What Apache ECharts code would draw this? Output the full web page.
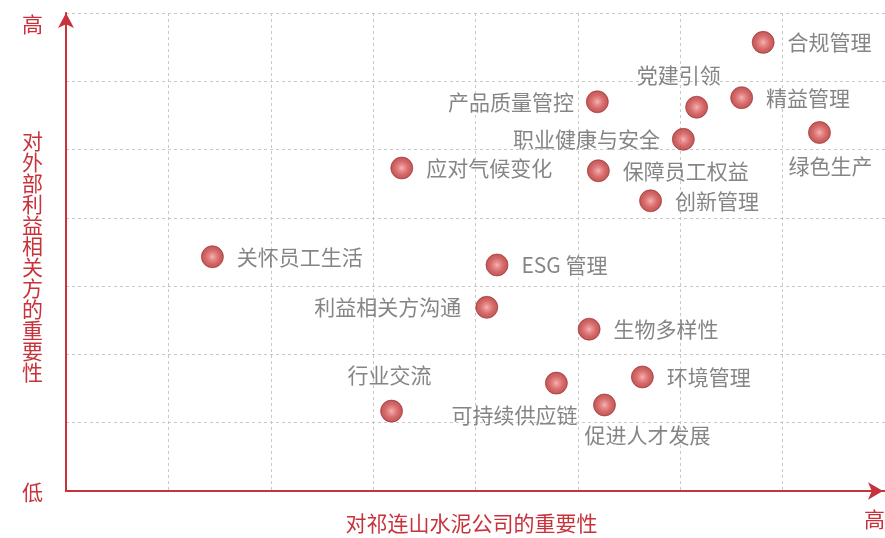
<!DOCTYPE html>
<html>
<head>
<meta charset="utf-8">
<script src="https://cdn.jsdelivr.net/npm/echarts@6/dist/echarts.min.js"></script>
<style>
html,body{margin:0;padding:0;background:#fff;}
#chart{width:885px;height:538px;}
</style>
</head>
<body>
<div id="chart"></div>
<script>
// ---- data ----
const topics = ['合规管理','党建引领','精益管理','绿色生产','职业健康与安全','保障员工权益','创新管理','产品质量管控','应对气候变化','关怀员工生活','ESG 管理','利益相关方沟通','生物多样性','环境管理','可持续供应链','促进人才发展','行业交流'];
const companyImportance = [6.81,6.16,6.60,7.36,6.03,5.20,5.71,5.19,3.28,1.43,4.21,4.11,5.11,5.63,4.79,5.26,3.18];
const stakeholderImportance = [6.57,5.62,5.76,5.25,5.15,4.69,4.25,5.70,4.73,3.43,3.31,2.69,2.37,1.67,1.58,1.26,1.17];
const xAxisTitle = '对祁连山水泥公司的重要性';
const yAxisTitle = '对外部利益相关方的重要性';
const lowHighLabels = ['低','高'];

// ---- label placement (style only) ----
const labelPos = ['right','top','right','bottom','left','right','right','left','right','right','right','left','right','right','bottom','bottom','top'];
const labelShift = [[0,0],[-18,0],[0,0],[11,2],[0,0],[0,0],[0,0],[0,0],[0,0],[0,0],[0,0],[-2,0],[0,0],[0,0],[-42,0],[43,-2],[-2,-4]];

const RED = '#c8323b';
const GRAY = '#666666';
const FONT = '"Noto Sans CJK SC", "Noto Sans", sans-serif';

const points = topics.map((n, i) => ({
  name: n,
  value: [companyImportance[i], stakeholderImportance[i]],
  label: {
    position: labelPos[i],
    offset: labelShift[i],
    distance: (labelPos[i] === 'top' || labelPos[i] === 'bottom') ? 10 : (labelPos[i] === 'left' ? 12 : 13)
  }
}));

const chart = echarts.init(document.getElementById('chart'), null, {renderer: 'canvas'});
chart.setOption({
  animation: false,
  backgroundColor: '#fff',
  grid: {left: 66, right: 0, top: 13, bottom: 47, containLabel: false},
  xAxis: {
    type: 'value', min: 0, max: 8, interval: 1,
    axisLine: {show: true, lineStyle: {color: RED, width: 2}, symbol: ['none','arrow'], symbolSize: [13, 15], symbolOffset: [0, -2]},
    axisTick: {show: false},
    axisLabel: {show: false},
    splitLine: {show: true, lineStyle: {color: '#c8c8c8', type: [3,3], width: 1}}
  },
  yAxis: {
    type: 'value', min: 0, max: 7, interval: 1,
    axisLine: {show: true, lineStyle: {color: RED, width: 2}, symbol: ['none','arrow'], symbolSize: [12, 15], symbolOffset: [0, 0]},
    axisTick: {show: false},
    axisLabel: {show: false},
    splitLine: {show: true, lineStyle: {color: '#c8c8c8', type: [3,3], width: 1}}
  },
  graphic: [
    {type: 'text', x: 32.5, y: 24, style: {text: lowHighLabels[1], fill: RED, font: '21px ' + FONT, textAlign: 'center', textVerticalAlign: 'middle'}},
    {type: 'text', x: 32.5, y: 492.5, style: {text: lowHighLabels[0], fill: RED, font: '21px ' + FONT, textAlign: 'center', textVerticalAlign: 'middle'}},
    {type: 'text', x: 32.5, y: 256.7, style: {text: yAxisTitle.split('').join('\n'), fill: RED, font: '21px ' + FONT, lineHeight: 21, textAlign: 'center', textVerticalAlign: 'middle'}},
    {type: 'text', x: 471.5, y: 523.5, style: {text: xAxisTitle, fill: RED, font: '21px ' + FONT, textAlign: 'center', textVerticalAlign: 'middle'}},
    {type: 'text', x: 874.5, y: 519.5, style: {text: lowHighLabels[1], fill: RED, font: '21px ' + FONT, textAlign: 'center', textVerticalAlign: 'middle'}}
  ],
  series: [{
    type: 'scatter',
    symbol: 'circle',
    symbolSize: 22,
    data: points,
    itemStyle: {
      color: {
        type: 'radial', x: 0.5, y: 0.5, r: 0.5,
        colorStops: [
          {offset: 0, color: '#f4a2a2'},
          {offset: 0.25, color: '#e27272'},
          {offset: 0.6, color: '#cc4444'},
          {offset: 0.85, color: '#b83434'},
          {offset: 1, color: '#9c2628'}
        ]
      },
      borderColor: '#a82c2c',
      borderWidth: 0.8
    },
    label: {
      show: true,
      formatter: '{b}',
      color: GRAY,
      fontSize: 21,
      fontFamily: FONT
    },
    emphasis: {disabled: true}
  }]
});
</script>
</body>
</html>
